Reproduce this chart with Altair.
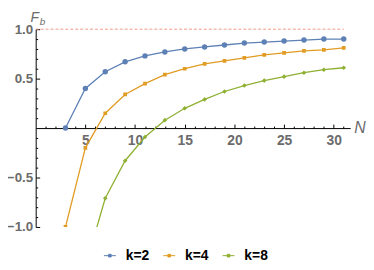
import altair as alt
import pandas as pd

# ---- data ----
N_all = [3, 5, 7, 9, 11, 13, 15, 17, 19, 21, 23, 25, 27, 29, 31]
k2 = [0.00, 0.40, 0.57, 0.67, 0.73, 0.77, 0.80, 0.82, 0.84, 0.86, 0.87, 0.88, 0.89, 0.90, 0.90]
k4 = [-1.00, -0.20, 0.15, 0.34, 0.45, 0.54, 0.60, 0.65, 0.68, 0.71, 0.74, 0.76, 0.78, 0.79, 0.81]
N_k8 = [5, 7, 9, 11, 13, 15, 17, 19, 21, 23, 25, 27, 29, 31]
k8 = [-1.40, -0.71, -0.33, -0.09, 0.08, 0.20, 0.29, 0.37, 0.43, 0.48, 0.52, 0.56, 0.59, 0.61]
series_names = ["k=2", "k=4", "k=8"]
series_colors = ["#5E81B5", "#E19C24", "#8FB032"]
series_shapes = ["circle", "square", "diamond"]
series_sizes = [30, 14, 22]

x_ticks = [5, 10, 15, 20, 25, 30]
x_minor = [1, 2, 3, 4, 6, 7, 8, 9, 11, 12, 13, 14, 16, 17, 18, 19, 21, 22, 23, 24,
           26, 27, 28, 29, 31]
y_ticks = [-1.0, -0.5, 0.5, 1.0]
y_minor = [-0.9, -0.8, -0.7, -0.6, -0.4, -0.3, -0.2, -0.1,
           0.1, 0.2, 0.3, 0.4, 0.6, 0.7, 0.8, 0.9]
ref_level = 1.0
ref_x_end = 31
x_domain = [0, 31.65]
y_domain = [-1, 1]

W, H = 318, 200

rows = []
for name, xs_, ys_ in [("k=2", N_all, k2), ("k=4", N_all, k4), ("k=8", N_k8, k8)]:
    for xv, yv in zip(xs_, ys_):
        rows.append({"N": xv, "F": yv, "k": name})
df = pd.DataFrame(rows)

FONT = "Liberation Sans"
GRAY = "#6b6b6b"

xs = alt.Scale(domain=x_domain, nice=False, zero=False)
ys = alt.Scale(domain=y_domain, nice=False, zero=False)

x_major_axis = alt.Axis(orient="top", offset=-H / 2, values=x_ticks, tickSize=4,
                        labelPadding=-10, labelBaseline="top", labelFont=FONT,
                        labelFontSize=14, labelFontWeight="bold", labelColor=GRAY,
                        domainColor="black", tickColor="black", grid=False,
                        title=None, labelFlush=False, labelOverlap=False)
y_major_axis = alt.Axis(orient="right", offset=-W, values=y_ticks, tickSize=4,
                        labelPadding=-7, labelAlign="right", labelBaseline="middle",
                        labelFont=FONT, labelFontSize=13.5, labelFontWeight="bold",
                        labelColor=GRAY, domainColor="black", tickColor="black",
                        grid=False, title=None, labelFlush=False, labelOverlap=False,
                        labelExpr="replace(format(datum.value, '.1f'), '-', '\u2212')")
x_minor_axis = alt.Axis(orient="top", offset=-H / 2, values=x_minor, tickSize=2,
                        labels=False, domain=False, tickColor="black", grid=False,
                        title=None)
y_minor_axis = alt.Axis(orient="right", offset=-W, values=y_minor, tickSize=2,
                        labels=False, domain=False, tickColor="black", grid=False,
                        title=None)

legend = alt.Legend(
    title=None, orient="none", legendX=68, legendY=222,
    direction="horizontal",
    symbolType="M-1,0H1M-0.22,-0.22H0.22V0.22H-0.22Z",
    symbolSize=144, symbolStrokeWidth=1, symbolOpacity=1,
    labelFont=FONT, labelFontSize=14, labelFontWeight="bold",
    labelColor="black", labelOffset=9, columnPadding=12,
    labelBaseline="middle")

color_scale = alt.Scale(domain=series_names, range=series_colors)

ref = alt.Chart(pd.DataFrame({"x": [0], "x2": [ref_x_end], "y": [ref_level]})).mark_rule(
    color="#f29a86", strokeDash=[3, 2], strokeWidth=1
).encode(
    x=alt.X("x:Q", scale=xs, axis=None),
    x2="x2:Q",
    y=alt.Y("y:Q", scale=ys, axis=None),
)

lines = alt.Chart(df).mark_line(clip=True, strokeWidth=1.3).encode(
    x=alt.X("N:Q", scale=xs, axis=x_major_axis),
    y=alt.Y("F:Q", scale=ys, axis=y_major_axis),
    color=alt.Color("k:N", scale=color_scale, legend=legend),
)

point_layers = []
for i, (name, shp, sz) in enumerate(zip(series_names, series_shapes, series_sizes)):
    first = i == 0
    point_layers.append(
        alt.Chart(df).transform_filter(alt.datum.k == name).mark_point(
            clip=True, filled=True, opacity=1, shape=shp, size=sz
        ).encode(
            x=alt.X("N:Q", scale=xs, axis=x_minor_axis if first else None),
            y=alt.Y("F:Q", scale=ys, axis=y_minor_axis if first else None),
            color=alt.Color("k:N", scale=color_scale, legend=legend),
        )
    )

f_label = alt.Chart(pd.DataFrame({"x": [0], "y": [1.0], "t": ["F"]})).mark_text(
    font=FONT, fontStyle="italic", fontSize=14, color=GRAY, align="center",
    baseline="alphabetic", dx=-1, dy=-7
).encode(x=alt.X("x:Q", scale=xs, axis=None), y=alt.Y("y:Q", scale=ys, axis=None), text="t:N")

b_label = alt.Chart(pd.DataFrame({"x": [0], "y": [1.0], "t": ["b"]})).mark_text(
    font=FONT, fontStyle="italic", fontSize=10, color=GRAY, align="left",
    baseline="alphabetic", dx=4, dy=-4
).encode(x=alt.X("x:Q", scale=xs, axis=None), y=alt.Y("y:Q", scale=ys, axis=None), text="t:N")

n_label = alt.Chart(pd.DataFrame({"x": [x_domain[1]], "y": [0.0], "t": ["N"]})).mark_text(
    font=FONT, fontStyle="italic", fontSize=16, color=GRAY, align="left",
    baseline="middle", dx=4, dy=0
).encode(x=alt.X("x:Q", scale=xs, axis=None), y=alt.Y("y:Q", scale=ys, axis=None), text="t:N")

chart = alt.layer(ref, lines, *point_layers, f_label, b_label, n_label).resolve_axis(
    x="independent", y="independent"
).properties(
    width=W, height=H,
    autosize=alt.AutoSizeParams(type="none"),
    padding={"left": 28, "top": 20, "right": 16, "bottom": 34},
).configure_view(stroke=None)

chart.save("out.html", embed_options={"renderer": "svg", "actions": False})
